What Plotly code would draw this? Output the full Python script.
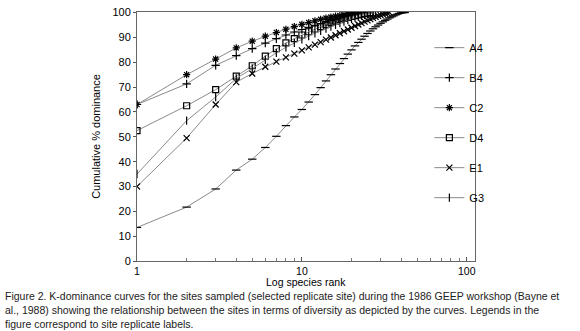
import plotly.graph_objects as go

series_names = ["A4", "B4", "C2", "D4", "E1", "G3"]

a4 = [13.5, 21.7, 29.0, 36.6, 41.0, 45.7, 50.2, 54.5, 58.0, 61.0, 64.0, 67.0, 69.8, 72.5,
      75.0, 77.3, 79.5, 81.5, 83.3, 85.0, 86.6, 88.0, 89.3, 90.5, 91.6, 92.6, 93.5, 94.3,
      95.0, 95.7, 96.3, 96.9, 97.4, 97.9, 98.3, 98.7, 99.1, 99.4, 99.7, 99.9, 100.0, 100.0]
b4 = [63.0, 71.3, 78.8, 82.7, 85.5, 87.7, 89.5, 91.0, 92.2, 93.2, 94.1, 94.9, 95.6, 96.2,
      96.8, 97.3, 97.8, 98.2, 98.6, 98.9, 99.2, 99.5, 99.7, 99.9, 100.0]
c2 = [63.0, 75.0, 81.3, 85.8, 88.5, 90.5, 92.0, 93.3, 94.4, 95.3, 96.0, 96.7, 97.3, 97.8,
      98.2, 98.6, 98.9, 99.2, 99.5, 99.7, 99.9, 100.0]
d4 = [52.5, 62.5, 69.0, 74.4, 78.6, 82.5, 85.5, 87.8, 89.5, 91.0, 92.3, 93.4, 94.4, 95.2,
      96.0, 96.6, 97.2, 97.7, 98.1, 98.5, 98.8, 99.1, 99.4, 99.6, 99.8, 100.0]
e1 = [30.0, 49.5, 63.0, 72.0, 75.5, 78.2, 80.3, 82.0, 83.5, 84.8, 86.0, 87.1, 88.1, 89.1,
      90.0, 90.9, 91.7, 92.5, 93.2, 93.9, 94.6, 95.2, 95.8, 96.4, 96.9, 97.4, 97.9, 98.3,
      98.7, 99.0, 99.3, 99.6, 99.8, 100.0]
g3 = [35.0, 56.5, 66.0, 73.5, 77.5, 81.0, 83.8, 86.0, 87.8, 89.3, 90.6, 91.7, 92.7, 93.6,
      94.4, 95.1, 95.8, 96.4, 97.0, 97.5, 98.0, 98.4, 98.8, 99.1, 99.4, 99.6, 99.8, 100.0]

series_values = [a4, b4, c2, d4, e1, g3]
symbols = ["line-ew", "cross-thin", "asterisk", "square-open", "x-thin", "line-ns"]

y_ticks = list(range(0, 101, 10))
x_ticks = [1, 10, 100]
x_minor = [2, 3, 4, 5, 6, 7, 8, 9, 20, 30, 40, 50, 60, 70, 80, 90]

x_title = "Log species rank"
caption_lines = [
    "Figure 2. K-dominance curves for the sites sampled (selected replicate site) during the 1986 GEEP workshop (Bayne et",
    "al., 1988) showing the relationship between the sites in terms of diversity as depicted by the curves. Legends in the",
    "figure correspond to site replicate labels.",
]

font = "Liberation Sans, Arial, sans-serif"

fig = go.Figure()
for name, vals, sym in zip(series_names, series_values, symbols):
    ranks = list(range(1, len(vals) + 1))
    fig.add_trace(go.Scatter(
        x=ranks, y=vals, name=name, mode="lines+markers",
        line=dict(color="#8a8a8a", width=1),
        marker=dict(symbol=sym, size=6, color="black",
                    line=dict(color="black", width=1.2)),
        legendgroup=name,
    ))

fig.update_layout(
    width=580, height=331,
    margin=dict(l=137, r=105, t=6, b=70),
    paper_bgcolor="white", plot_bgcolor="white",
    font=dict(family=font, size=11, color="black"),
    showlegend=True,
    legend=dict(x=0.865, y=0.915, xanchor="left", yanchor="top",
                bgcolor="rgba(0,0,0,0)", font=dict(size=11),
                tracegroupgap=11, itemwidth=30),
    xaxis=dict(type="log", range=[0, 2.05], tickvals=x_ticks,
               ticktext=[str(v) for v in x_ticks], tickfont=dict(size=10.5),
               ticks="inside", ticklen=4, tickcolor="#555",
               minor=dict(tickvals=x_minor, ticks="inside", ticklen=3,
                          tickcolor="#777", showgrid=False),
               showgrid=False, zeroline=False,
               showline=True, linecolor="#666", linewidth=1, mirror=True),
    yaxis=dict(range=[0, 100.25], tickvals=y_ticks,
               ticks="outside", ticklen=3, tickcolor="#555",
               showgrid=False, zeroline=False,
               showline=True, linecolor="#666", linewidth=1, mirror=True,
               title=dict(text="Cumulative % dominance", font=dict(size=11), standoff=9)),
)

fig.add_annotation(text=x_title, xref="paper", yref="paper", x=0.5, y=-22 / 255,
                   xanchor="center", yanchor="middle", showarrow=False,
                   font=dict(size=10.5, family=font, color="black"))

for i, line in enumerate(caption_lines):
    fig.add_annotation(text=line, xref="paper", yref="paper",
                       x=-134/338, y=(331 - 70 - 289 - 14 * i) / 255,
                       xanchor="left", yanchor="top", showarrow=False, align="left",
                       font=dict(size=10.5, family=font, color="#222"))

fig.write_html("out.html", config={"displayModeBar": False},
               post_script="document.body.style.margin='0';")
